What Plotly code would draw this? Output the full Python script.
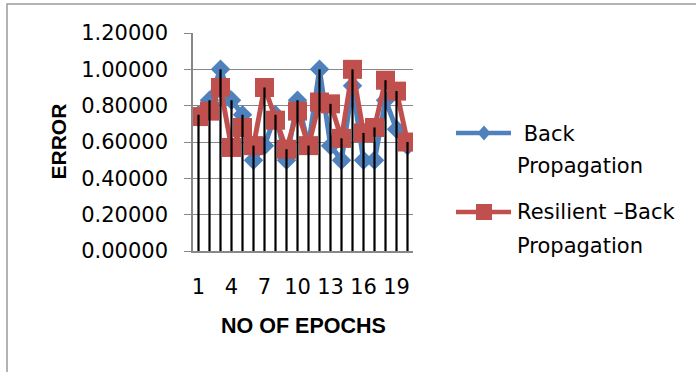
import plotly.graph_objects as go

# Error per epoch for the two training methods
epochs = list(range(1, 21))
back_prop = [0.75, 0.83, 1.00, 0.83, 0.75, 0.50, 0.58, 0.75, 0.50, 0.83,
             0.58, 1.00, 0.58, 0.50, 0.91, 0.50, 0.50, 0.83, 0.67, 0.58]
resilient_bp = [0.74, 0.77, 0.90, 0.57, 0.68, 0.58, 0.90, 0.72, 0.56, 0.77,
                0.58, 0.82, 0.81, 0.62, 1.00, 0.65, 0.68, 0.94, 0.88, 0.60]
x_ticks = [1, 4, 7, 10, 13, 16, 19]
y_ticks = [0.0, 0.2, 0.4, 0.6, 0.8, 1.0, 1.2]
series_names = ["\u00a0Back", "Propagation", "Resilient \u2013Back", "Propagation"]

BLUE = "#4F81BD"
RED = "#C0504D"
GRID = "#888888"
TICK_FONT = dict(family="DejaVu Sans", size=21, color="#000000")
TITLE_FONT = dict(family="Liberation Sans", size=21.5, color="#000000")

W, H = 696, 372
L, R, T, B = 193, 283, 33, 121
PW, PH = W - L - R, H - T - B


def px(xp):
    return (xp - L) / PW


def py(yp):
    return (H - B - yp) / PH


fig = go.Figure()

fig.add_trace(go.Scatter(
    x=epochs, y=back_prop, mode="lines+markers", name="Back Propagation",
    line=dict(color=BLUE, width=5),
    marker=dict(symbol="diamond", size=15, color=BLUE),
    showlegend=False,
))
fig.add_trace(go.Scatter(
    x=epochs, y=resilient_bp, mode="lines+markers", name="Resilient \u2013Back Propagation",
    line=dict(color=RED, width=5),
    marker=dict(symbol="square", size=19, color=RED),
    showlegend=False,
))

# drop lines from the higher of the two values down to the axis
drop_x, drop_y = [], []
for e, a, b in zip(epochs, back_prop, resilient_bp):
    drop_x += [e, e, None]
    drop_y += [0, max(a, b), None]
fig.add_trace(go.Scatter(
    x=drop_x, y=drop_y, mode="lines", line=dict(color="#000000", width=2.2),
    hoverinfo="skip", showlegend=False,
))

shapes = [
    # chart area border
    dict(type="rect", xref="paper", yref="paper",
         x0=px(7), x1=px(720), y0=py(4), y1=py(400),
         line=dict(color="#9a9a9a", width=1.5), fillcolor="rgba(0,0,0,0)",
         layer="below"),
]

# legend keys
legend_rows = [(133, BLUE, "diamond"), (212, RED, "square")]
for yk, col, sym in legend_rows:
    shapes.append(dict(type="line", xref="paper", yref="paper",
                       x0=px(456), x1=px(511), y0=py(yk), y1=py(yk),
                       line=dict(color=col, width=4.5)))
    cx = 484
    if sym == "diamond":
        path = (f"M {px(cx)},{py(yk - 7.5)} L {px(cx + 6.5)},{py(yk)} "
                f"L {px(cx)},{py(yk + 7.5)} L {px(cx - 6.5)},{py(yk)} Z")
        shapes.append(dict(type="path", xref="paper", yref="paper", path=path,
                           fillcolor=col, line=dict(color=col, width=0)))
    else:
        shapes.append(dict(type="rect", xref="paper", yref="paper",
                           x0=px(cx - 8), x1=px(cx + 8), y0=py(yk - 8), y1=py(yk + 8),
                           fillcolor=col, line=dict(color=col, width=0)))

annotations = [
    dict(text="<b>ERROR</b>", xref="paper", yref="paper", x=px(57.5), y=0.5,
         textangle=-90, showarrow=False, font=dict(family="Liberation Sans", size=21, color="#000000"),
         xanchor="center", yanchor="middle"),
    dict(text="<b>NO OF EPOCHS</b>", xref="paper", yref="paper", x=px(303), y=py(326),
         showarrow=False, font=TITLE_FONT, xanchor="center", yanchor="middle"),
]
for txt, yc in zip(series_names, [134, 166, 212, 246]):
    annotations.append(dict(text=txt, xref="paper", yref="paper", x=px(515), y=py(yc),
                            showarrow=False, font=TICK_FONT,
                            xanchor="left", yanchor="middle"))

fig.update_layout(
    width=W, height=H,
    margin=dict(l=L, r=R, t=T, b=B, pad=0),
    paper_bgcolor="#ffffff", plot_bgcolor="#ffffff",
    shapes=shapes, annotations=annotations,
    showlegend=False,
    xaxis=dict(
        range=[0.5, 20.5], tickmode="array", tickvals=x_ticks,
        ticktext=[str(v) for v in x_ticks], tickangle=0,
        showgrid=False, zeroline=False, showline=True, linecolor=GRID, linewidth=1.5,
        ticks="", tickfont=TICK_FONT, ticklabelstandoff=16,
    ),
    yaxis=dict(
        range=[0, 1.2], tickmode="array", tickvals=y_ticks,
        ticktext=[f"{v:.5f}" for v in y_ticks],
        showgrid=True, gridcolor=GRID, gridwidth=1.3,
        zeroline=False, showline=True, linecolor=GRID, linewidth=1.5,
        ticks="outside", ticklen=7, tickcolor=GRID, tickwidth=1.3,
        tickfont=TICK_FONT, ticklabelstandoff=12,
    ),
)

fig.write_html("out.html")
